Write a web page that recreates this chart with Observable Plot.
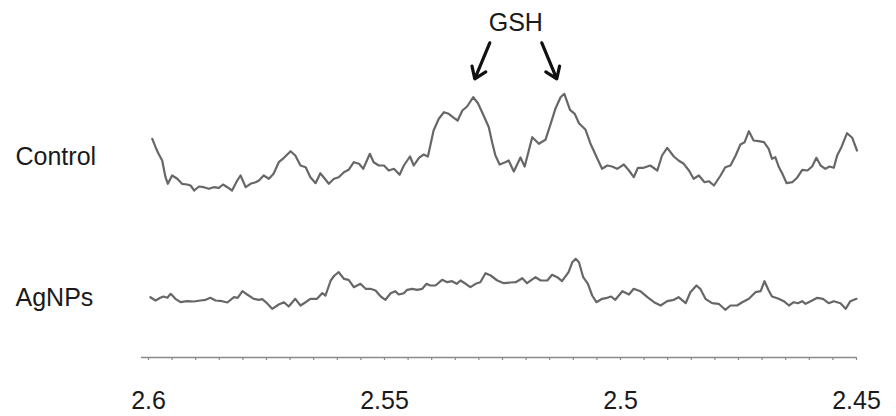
<!DOCTYPE html>
<html>
<head>
<meta charset="utf-8">
<script src="https://cdn.jsdelivr.net/npm/d3@7"></script>
<script src="https://cdn.jsdelivr.net/npm/@observablehq/plot@0.6"></script>
<style>
  html, body { margin: 0; padding: 0; background: #fff; }
  #chart { width: 896px; height: 416px; }
</style>
</head>
<body>
<div id="chart"></div>
<script>
// ---- Data ----
const seriesNames = ["Control", "AgNPs"];

const controlPpm = [2.5992,2.5985,2.5979,2.5971,2.5964,2.5959,2.5950,2.5939,2.5929,2.5918,2.5911,2.5903,2.5893,2.5883,2.5872,2.5862,2.5851,2.5842,2.5833,2.5823,2.5812,2.5805,2.5794,2.5784,2.5773,2.5766,2.5756,2.5745,2.5735,2.5724,2.5713,2.5699,2.5689,2.5678,2.5667,2.5657,2.5646,2.5636,2.5629,2.5618,2.5607,2.5597,2.5586,2.5576,2.5565,2.5554,2.5545,2.5531,2.5523,2.5512,2.5501,2.5491,2.5480,2.5468,2.5459,2.5446,2.5438,2.5427,2.5417,2.5408,2.5396,2.5385,2.5374,2.5364,2.5353,2.5345,2.5335,2.5325,2.5312,2.5302,2.5290,2.5279,2.5272,2.5265,2.5256,2.5244,2.5237,2.5226,2.5212,2.5203,2.5187,2.5173,2.5159,2.5148,2.5138,2.5127,2.5119,2.5107,2.5097,2.5088,2.5074,2.5064,2.5049,2.5039,2.5028,2.5018,2.5007,2.4993,2.4982,2.4972,2.4963,2.4951,2.4937,2.4922,2.4912,2.4901,2.4887,2.4877,2.4866,2.4855,2.4845,2.4834,2.4822,2.4813,2.4802,2.4788,2.4778,2.4767,2.4756,2.4746,2.4737,2.4728,2.4718,2.4707,2.4696,2.4686,2.4679,2.4672,2.4665,2.4657,2.4648,2.4636,2.4626,2.4615,2.4604,2.4594,2.4585,2.4576,2.4566,2.4557,2.4548,2.4541,2.4532,2.4520,2.4509,2.4499];
const controlIntensity = [218.7,210.3,204,197,180.3,173.7,182,178.7,173.7,173,172,167,171,170.3,168.7,170.3,169.7,173,170.3,167,177,182,170.3,173.7,175.3,177,182,178.7,183.7,195.3,199.7,206.3,202,192,190.3,180.3,174.3,184.3,180.3,173.7,178.7,180.3,185.3,187.7,195.3,193.7,188.7,203.7,195.3,192,192,187,188.7,182.7,192,201,192,199.7,203,201,227,238.7,245.3,243.7,239.7,237,247,251,260.3,254.3,242,230.3,215.3,202,193,195.3,197,186,200,191,220.3,213.7,217.7,233.7,248.7,260.3,263.7,247.7,243.7,234.3,227.7,214.3,198.7,188.7,192,191,188.7,193,187,180.3,189.7,189.7,192,187,202,209.7,201,197,193.7,187,178.7,182,175.3,176.3,172,182,190.3,192,202,213,215.3,226.3,217,216.3,215.3,208.7,198.7,200.3,191,183.7,174.3,175.3,179.7,187.7,187,191,199.7,192,188.7,191,189.7,202,210.3,224.3,219.7,207];

const agnpsPpm = [2.5996,2.5985,2.5975,2.5968,2.5960,2.5953,2.5943,2.5932,2.5918,2.5904,2.5890,2.5879,2.5869,2.5858,2.5844,2.5833,2.5819,2.5811,2.5801,2.5791,2.5777,2.5766,2.5759,2.5749,2.5738,2.5724,2.5713,2.5703,2.5689,2.5678,2.5667,2.5657,2.5643,2.5632,2.5625,2.5614,2.5606,2.5597,2.5586,2.5576,2.5565,2.5551,2.5540,2.5530,2.5519,2.5508,2.5498,2.5487,2.5477,2.5470,2.5459,2.5452,2.5441,2.5431,2.5420,2.5411,2.5403,2.5392,2.5378,2.5367,2.5357,2.5347,2.5339,2.5328,2.5318,2.5307,2.5297,2.5286,2.5275,2.5261,2.5247,2.5233,2.5222,2.5208,2.5198,2.5180,2.5169,2.5155,2.5145,2.5134,2.5124,2.5110,2.5102,2.5095,2.5088,2.5079,2.5069,2.5060,2.5051,2.5039,2.5028,2.5020,2.5011,2.4996,2.4982,2.4972,2.4958,2.4943,2.4929,2.4915,2.4901,2.4887,2.4877,2.4862,2.4852,2.4839,2.4831,2.4820,2.4806,2.4792,2.4778,2.4767,2.4753,2.4742,2.4728,2.4714,2.4703,2.4695,2.4686,2.4679,2.4665,2.4654,2.4643,2.4633,2.4624,2.4615,2.4608,2.4597,2.4583,2.4571,2.4559,2.4548,2.4534,2.4523,2.4513,2.4500];
const agnpsIntensity = [60.3,57,59.7,61,59.7,63.7,58.7,55.3,56.3,56,57,57.7,59.7,57,56.3,55,60.3,59.7,66.3,63,58.7,57.7,58.3,54.3,48.7,53,55.3,51,58.7,52,55.3,58.7,58.7,64.3,62,77,82,85.3,78.7,77.7,70.3,73.7,68.7,68.7,67,61,57.7,64.3,66.3,63,64.3,67.7,68.7,67.7,68.7,73.7,72,72,77.7,75.3,76.3,73.7,77,73.7,70.3,73.7,75.3,84.3,82,77,74.3,75,75.3,79.3,74.3,80.3,77,77,82.7,80.3,76.3,85.3,95.3,98.7,95.3,80.3,73.7,62,55.3,58.7,59.7,61,57.7,66.3,63,68.7,66.3,60.3,55.3,52,56.3,57.7,60.3,54.3,65.3,72,68.7,58.7,54.3,53.7,47.7,52,52,55.3,58.7,65.3,66.3,76.3,67,61,58.7,56.3,52,55.3,54.3,56.3,53.7,56.3,59.7,58.7,54.3,56.3,54.3,48.7,56.3,58.7];

const majorTicks = [2.6, 2.55, 2.5, 2.45];
const tickLabels = ["2.6", "2.55", "2.5", "2.45"];
const gshPeaks = [2.5312, 2.5119];
const gshLabel = "GSH";

// ---- Build tables ----
const control = controlPpm.map((x, i) => ({x, y: controlIntensity[i]}));
const agnps = agnpsPpm.map((x, i) => ({x, y: agnpsIntensity[i]}));
const minorTicks = d3.range(0, 31).map(i => +(2.6 - i * 0.005).toFixed(3));

const W = 896, H = 416, ML = 148, MR = 40, MT = 0, MB = 59;
const xDomain = [2.6, 2.45];
const xs = Plot.scale({x: {domain: xDomain, range: [ML, W - MR]}});

// annotation geometry derived from the GSH peaks
const gshMid = (gshPeaks[0] + gshPeaks[1]) / 2;
const cPx = xs.apply(gshMid) - 3;
const peakTop = d3.max(controlIntensity);
const arrows = [
  {x1: xs.invert(cPx - 26), x2: xs.invert(cPx - 41), y1: peakTop + 51, y2: peakTop + 15},
  {x1: xs.invert(cPx + 26), x2: xs.invert(cPx + 41), y1: peakTop + 51, y2: peakTop + 15}
];
const axisStart = xs.invert(ML - 7);

const font = "'Liberation Sans', Arial, Helvetica, sans-serif";
const lineColor = "#676767";
const textColor = "#1a1a1a";

const plot = Plot.plot({
  width: W, height: H,
  marginLeft: ML, marginRight: MR, marginTop: MT, marginBottom: MB,
  x: {domain: xDomain, label: null},
  y: {domain: [0, H - MB], axis: null, label: null},
  style: {fontFamily: font, background: "#fff", overflow: "visible"},
  marks: [
    Plot.ruleY([0], {x1: axisStart, x2: xDomain[1], stroke: "#8a8a8a", strokeWidth: 1.5}),
    Plot.axisX(minorTicks, {tickSize: 3, stroke: "#8a8a8a", strokeWidth: 1.2, tickFormat: () => ""}),
    Plot.axisX(majorTicks, {tickSize: 0, tickPadding: 34, fontSize: 25, fill: textColor,
      tickFormat: d => tickLabels[majorTicks.indexOf(d)]}),
    Plot.line(control, {x: "x", y: "y", stroke: lineColor, strokeWidth: 2.2}),
    Plot.line(agnps, {x: "x", y: "y", stroke: lineColor, strokeWidth: 2.2}),
    Plot.text([seriesNames[0]], {x: xDomain[0], y: d3.median(controlIntensity), text: d => d,
      textAnchor: "start", dx: -133, dy: -9, fontSize: 25, fill: textColor}),
    Plot.text([seriesNames[1]], {x: xDomain[0], y: d3.median(agnpsIntensity), text: d => d,
      textAnchor: "start", dx: -133, dy: 1, fontSize: 25, fill: textColor}),
    Plot.text([gshLabel], {x: xs.invert(cPx), y: peakTop + 71, text: d => d,
      textAnchor: "middle", fontSize: 25, fill: textColor}),
    Plot.arrow(arrows, {x1: "x1", y1: "y1", x2: "x2", y2: "y2", stroke: "#111",
      strokeWidth: 3.2, headLength: 15, headAngle: 70})
  ]
});
document.getElementById("chart").appendChild(plot);
</script>
</body>
</html>
